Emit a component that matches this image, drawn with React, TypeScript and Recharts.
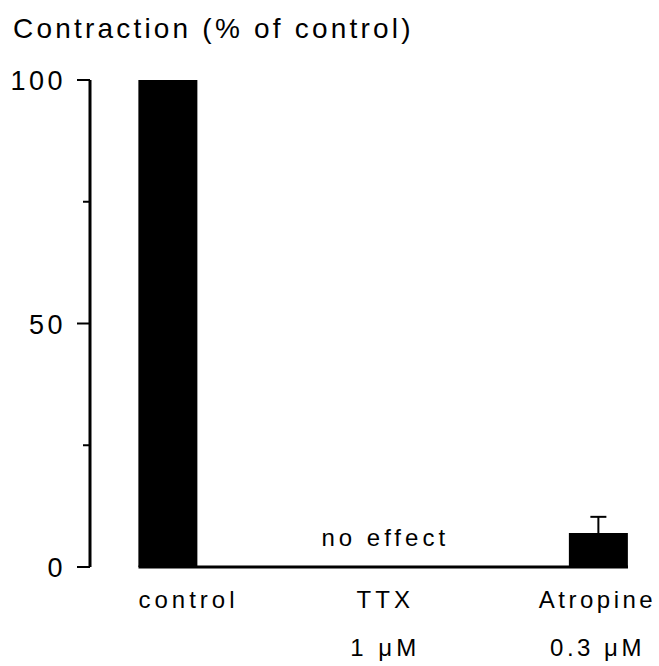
import React from 'react';
import { BarChart, Bar, XAxis, YAxis, ErrorBar, ReferenceLine, ReferenceDot } from 'recharts';

// values
const categories = ['control', 'TTX', 'Atropine'];
const doses = ['', '1 μM', '0.3 μM'];
const contraction = [100, 0, 7];
const sem = [0, 0, 3.3];
const notes = ['', 'no effect', ''];
const yTicks = [0, 25, 50, 75, 100];
const yLabelled = [0, 50, 100];

const FONT = '"Liberation Sans", Arial, Helvetica, sans-serif';
const BAR = 59;
const STEP = 215.25; // px between category centres
const HALF = BAR / 2 / STEP;

const data = categories.map((name, i) => ({
  idx: i,
  name,
  dose: doses[i],
  value: contraction[i],
  err: sem[i],
}));

const YTick = (props: any) => {
  const { x, y, payload } = props;
  const major = yLabelled.includes(payload.value);
  return (
    <g>
      <line x1={x - (major ? 13 : 7)} x2={x} y1={y} y2={y} stroke="#000" strokeWidth={2} />
      {major && (
        <text x={x - 24} y={y + 10} textAnchor="end" fontFamily={FONT} fontSize={27} letterSpacing={3.5} fill="#000">
          {payload.value}
        </text>
      )}
    </g>
  );
};

const XTick = (props: any) => {
  const { x, y, payload } = props;
  const i = payload.value as number;
  // control label starts at the bar's left edge, the others are centred
  const first = i === 0;
  const last = i === categories.length - 1;
  const tx = first ? x - BAR / 2 : last ? x - 1 : x + 2;
  const anchor = first ? 'start' : 'middle';
  return (
    <g fontFamily={FONT} fontSize={24} letterSpacing={last ? 3.5 : 4} fill="#000">
      <text x={tx} y={y + 41} textAnchor={anchor}>{categories[i]}</text>
      {doses[i] && (
        <text x={tx} y={y + 89} textAnchor={anchor}>{doses[i]}</text>
      )}
    </g>
  );
};

const NoteShape = (text: string) => (props: any) => {
  const { cx, cy } = props;
  return (
    <text x={cx + 2} y={cy - 21} textAnchor="middle" fontFamily={FONT} fontSize={24} letterSpacing={4} fill="#000">
      {text}
    </text>
  );
};

export default function App() {
  return (
    <div style={{ position: 'absolute', left: 0, top: 0, width: 659, height: 666, background: '#fff' }}>
      <div
        style={{
          position: 'absolute',
          left: 13,
          top: 13,
          fontFamily: FONT,
          fontSize: 28,
          letterSpacing: 3.2,
          lineHeight: '32px',
          color: '#000',
          whiteSpace: 'nowrap',
        }}
      >
        Contraction (% of control)
      </div>
      <BarChart width={659} height={666} data={data} margin={{ top: 80, right: 19, bottom: 0, left: 0 }}>
        <XAxis
          type="number"
          dataKey="idx"
          domain={[0, 2]}
          ticks={[0, 1, 2]}
          padding={{ left: 78, right: 41.5 }}
          axisLine={false}
          tickLine={false}
          tickSize={0}
          tickMargin={0}
          height={99}
          tick={<XTick />}
          interval={0}
        />
        <YAxis
          type="number"
          domain={[0, 100]}
          ticks={yTicks}
          width={90}
          axisLine={{ stroke: '#000', strokeWidth: 3 }}
          tickLine={false}
          tickSize={0}
          tickMargin={0}
          tick={<YTick />}
          interval={0}
        />
        <Bar dataKey="value" fill="#000" barSize={BAR} isAnimationActive={false}>
          <ErrorBar dataKey="err" direction="y" width={8} stroke="#000" strokeWidth={2} isAnimationActive={false} />
        </Bar>
        <ReferenceLine
          segment={[{ x: -HALF, y: 0 }, { x: 2 + HALF, y: 0 }]}
          stroke="#000"
          strokeWidth={3}
          ifOverflow="visible"
        />
        {notes.map((n, i) =>
          n ? <ReferenceDot key={i} x={i} y={0} r={0} shape={NoteShape(n)} ifOverflow="visible" /> : null
        )}
      </BarChart>
    </div>
  );
}
